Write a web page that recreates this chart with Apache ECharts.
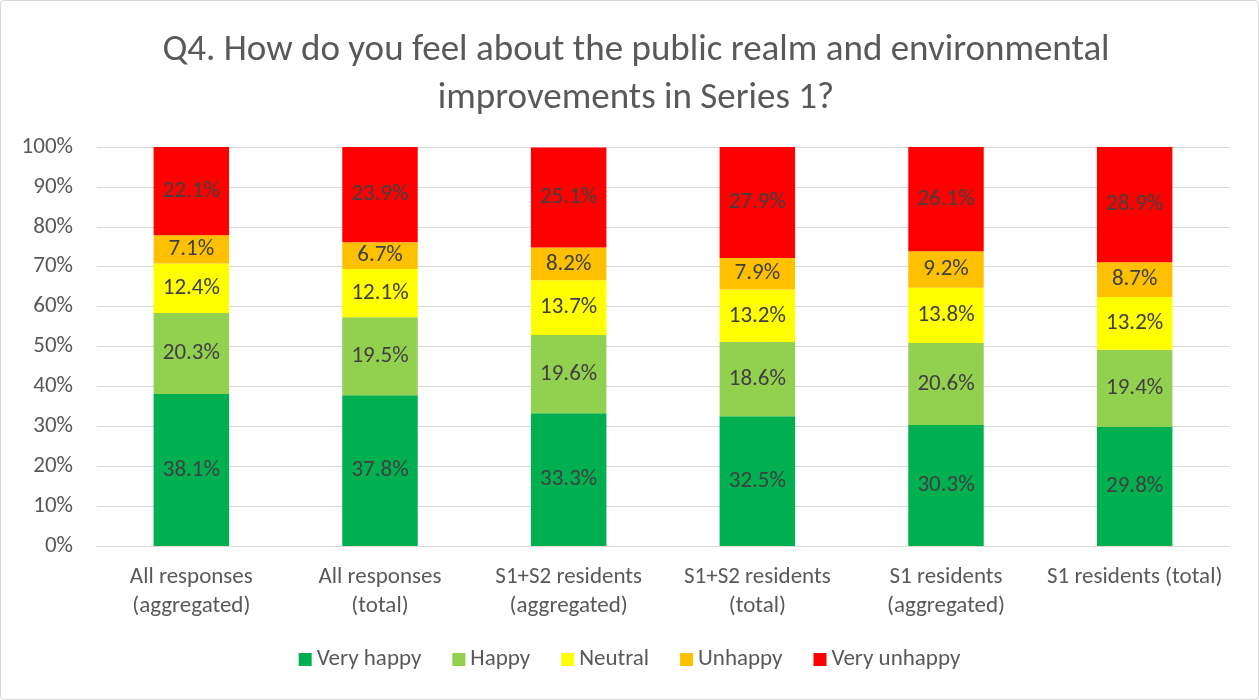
<!DOCTYPE html>
<html>
<head>
<meta charset="utf-8">
<script src="https://cdn.jsdelivr.net/npm/echarts@6/dist/echarts.min.js"></script>
<style>
html,body{margin:0;padding:0;background:#fff;}
#chart{position:absolute;left:0;top:0;width:1259px;height:700px;box-sizing:border-box;border:1px solid #d9d9d9;border-radius:4px;}
</style>
</head>
<body>
<div id="chart"></div>
<script>
var categories = ['All responses\n(aggregated)', 'All responses\n(total)', 'S1+S2 residents\n(aggregated)', 'S1+S2 residents\n(total)', 'S1 residents\n(aggregated)', 'S1 residents (total)'];
var veryHappy   = [38.1, 37.8, 33.3, 32.5, 30.3, 29.8];
var happy       = [20.3, 19.5, 19.6, 18.6, 20.6, 19.4];
var neutral     = [12.4, 12.1, 13.7, 13.2, 13.8, 13.2];
var unhappy     = [7.1, 6.7, 8.2, 7.9, 9.2, 8.7];
var veryUnhappy = [22.1, 23.9, 25.1, 27.9, 26.1, 28.9];

var font = 'Calibri, Carlito, "Open Sans", sans-serif';

function mkSeries(name, data, color) {
    return {
        name: name,
        type: 'bar',
        stack: 'total',
        barWidth: '40%',
        itemStyle: { color: color },
        label: {
            show: true,
            position: 'inside',
            formatter: function (p) { return p.value.toFixed(1) + '%'; },
            color: '#404040',
            fontSize: 23,
            fontFamily: font
        },
        data: data
    };
}

var chart = echarts.init(document.getElementById('chart'));
var option = {
    animation: false,
    title: {
        text: 'Q4. How do you feel about the public realm and environmental\nimprovements in Series 1?',
        left: 630,
        top: 21,
        textAlign: 'center',
        textStyle: {
            color: '#595959',
            fontSize: 37,
            fontWeight: 'normal',
            fontFamily: font,
            lineHeight: 48
        }
    },
    color: ['#00B050', '#92D050', '#FFFF00', '#FFC000', '#FF0000'],
    legend: {
        bottom: 23,
        left: 'center',
        itemWidth: 13,
        itemHeight: 13,
        itemGap: 31,
        icon: 'rect',
        textStyle: { color: '#595959', fontSize: 23, fontFamily: font }
    },
    grid: { left: 96, right: 29, top: 146, bottom: 153 },
    xAxis: {
        type: 'category',
        data: categories,
        axisTick: { show: false },
        axisLine: { lineStyle: { color: '#d9d9d9' } },
        axisLabel: { color: '#595959', fontSize: 23, fontFamily: font, lineHeight: 29, margin: 17, interval: 0 }
    },
    yAxis: {
        type: 'value',
        min: 0,
        max: 100,
        interval: 10,
        axisLabel: { formatter: '{value}%', color: '#595959', fontSize: 23, fontFamily: font, margin: 24 },
        splitLine: { lineStyle: { color: '#d9d9d9', width: 1 } },
        axisLine: { show: false }
    },
    series: [
        mkSeries('Very happy', veryHappy, '#00B050'),
        mkSeries('Happy', happy, '#92D050'),
        mkSeries('Neutral', neutral, '#FFFF00'),
        mkSeries('Unhappy', unhappy, '#FFC000'),
        mkSeries('Very unhappy', veryUnhappy, '#FF0000')
    ]
};
chart.setOption(option);
</script>
</body>
</html>
